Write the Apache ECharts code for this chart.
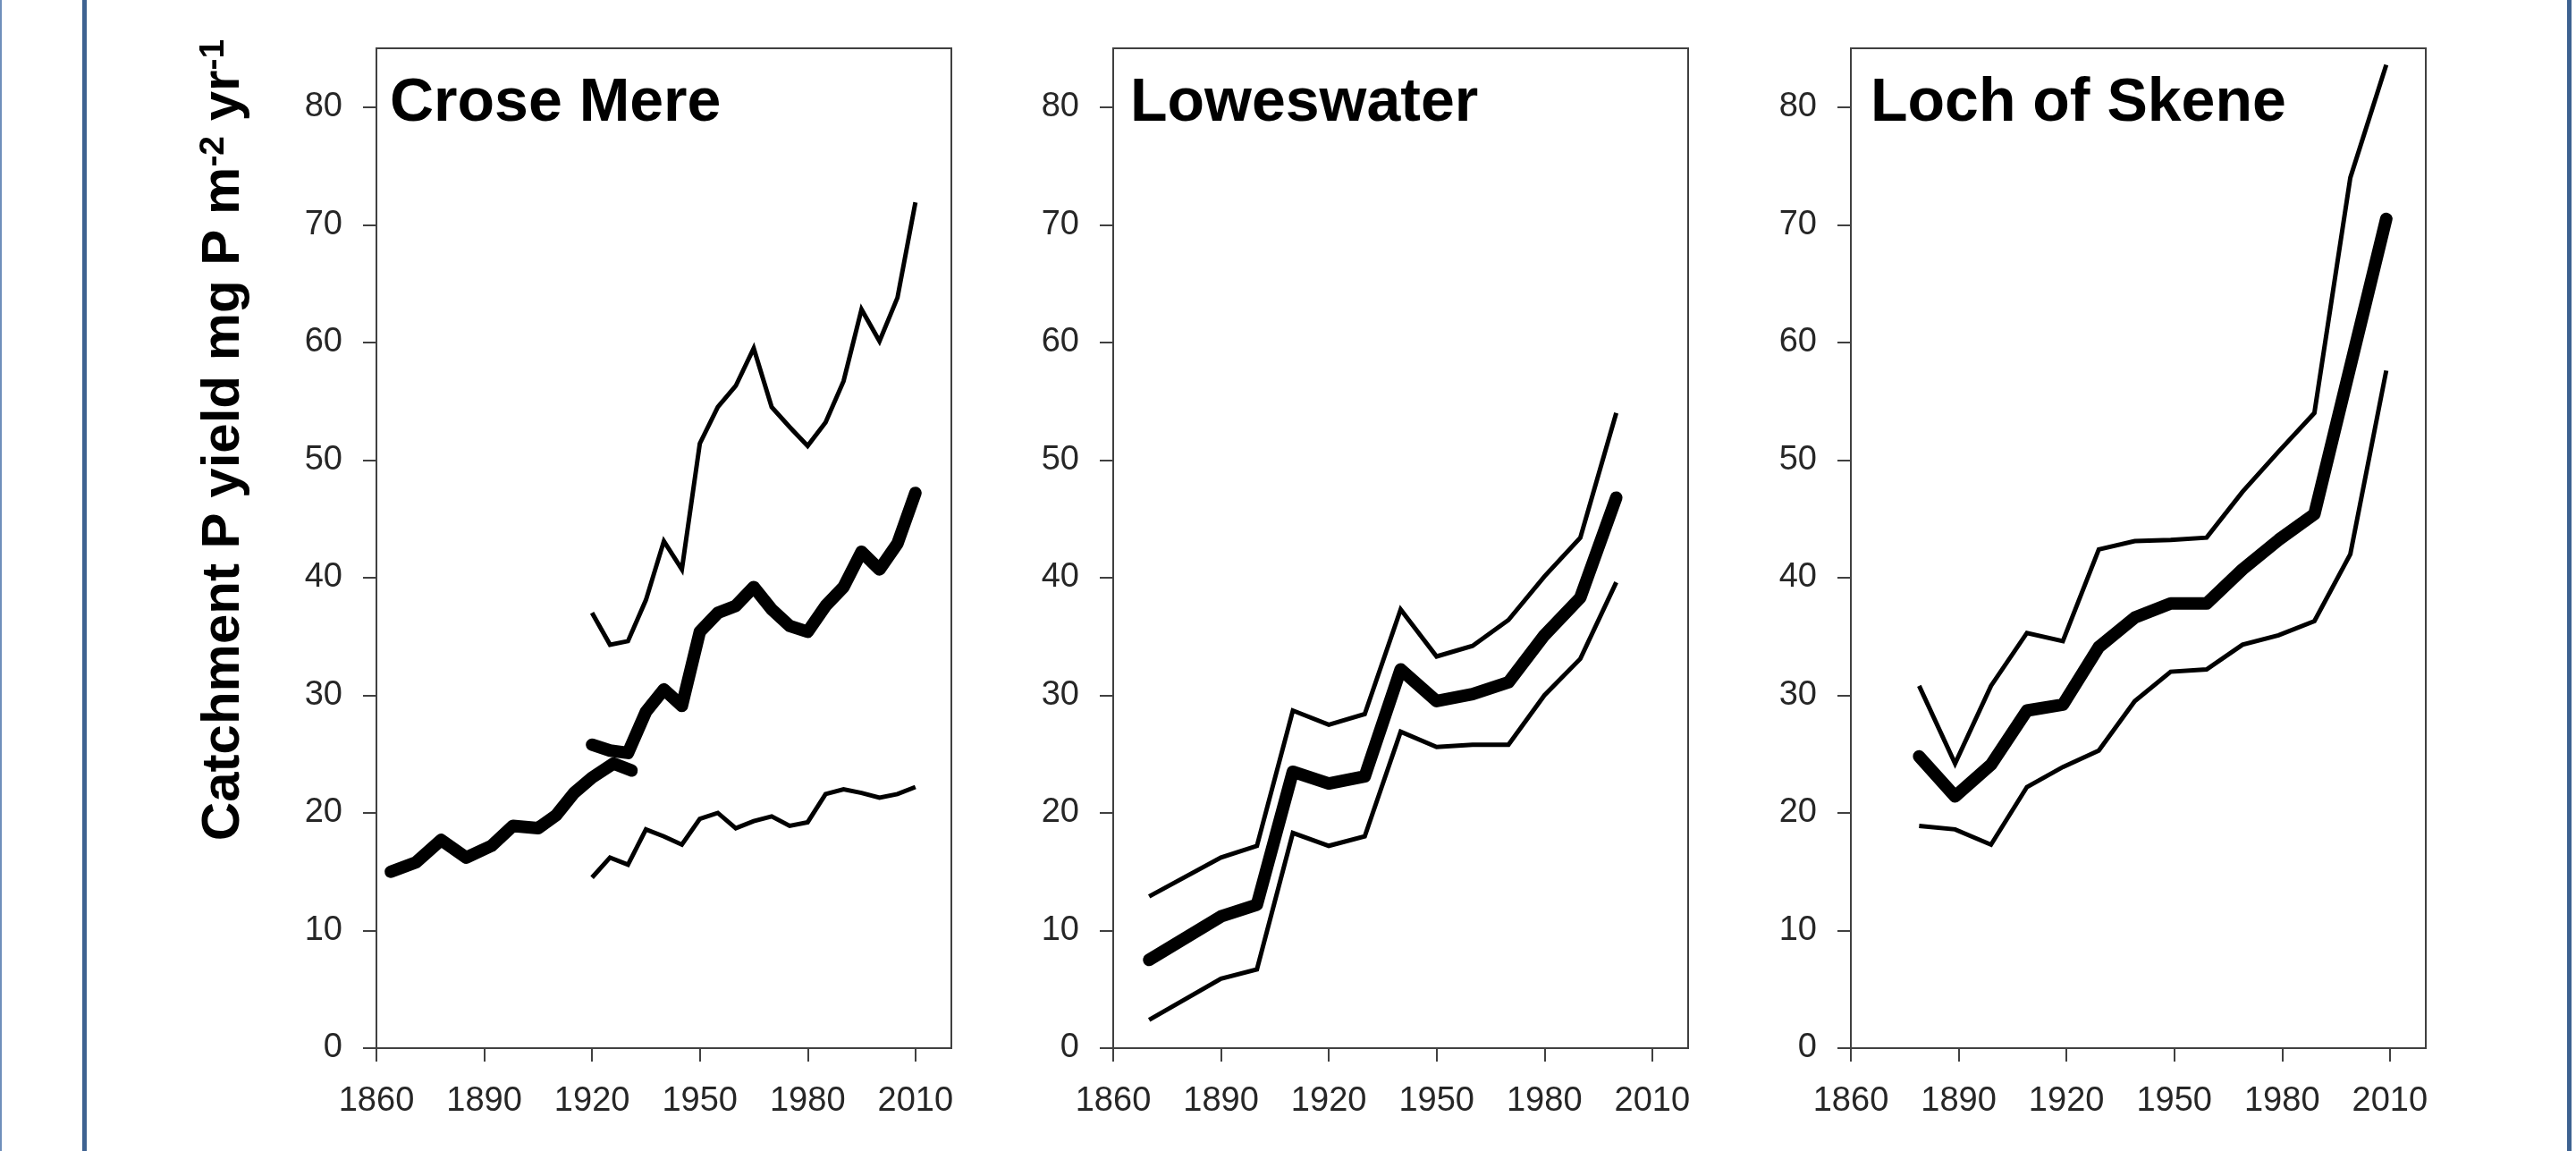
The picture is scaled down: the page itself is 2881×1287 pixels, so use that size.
<!DOCTYPE html>
<html>
<head>
<meta charset="utf-8">
<script src="https://cdn.jsdelivr.net/npm/echarts@6/dist/echarts.min.js"></script>
<style>
html,body{margin:0;padding:0;background:#fff;}
#chart{width:2881px;height:1287px;}
</style>
</head>
<body>
<div id="chart"></div>
<script>
// ---- Data ----
const panelTitles = ['Crose Mere', 'Loweswater', 'Loch of Skene'];
const xTickLabels = [1860, 1890, 1920, 1950, 1980, 2010];
const yTickLabels = [0, 10, 20, 30, 40, 50, 60, 70, 80];

// Crose Mere
const croseEarlyYears = [1864, 1871, 1878, 1885, 1892, 1898, 1905, 1910, 1915, 1920, 1926, 1931];
const croseEarlyMean  = [15.0, 15.8, 17.7, 16.2, 17.2, 18.9, 18.7, 19.8, 21.7, 23.0, 24.2, 23.6];
const croseYears = [1920, 1925, 1930, 1935, 1940, 1945, 1950, 1955, 1960, 1965, 1970, 1975, 1980, 1985, 1990, 1995, 2000, 2005, 2010];
const croseMean  = [25.8, 25.3, 25.1, 28.6, 30.5, 29.1, 35.4, 37.0, 37.6, 39.2, 37.3, 35.9, 35.4, 37.6, 39.2, 42.2, 40.7, 42.9, 47.2];
const croseUpper = [37.0, 34.3, 34.6, 38.1, 43.1, 40.7, 51.4, 54.5, 56.3, 59.5, 54.5, 52.8, 51.2, 53.2, 56.7, 62.8, 60.1, 63.8, 71.9];
const croseLower = [14.5, 16.2, 15.6, 18.6, 18.0, 17.3, 19.5, 20.0, 18.7, 19.3, 19.7, 18.9, 19.2, 21.6, 22.0, 21.7, 21.3, 21.6, 22.2];

// Loweswater
const loweYears = [1870, 1890, 1900, 1910, 1920, 1930, 1940, 1950, 1960, 1970, 1980, 1990, 2000];
const loweMean  = [7.5, 11.2, 12.2, 23.5, 22.5, 23.1, 32.2, 29.5, 30.1, 31.1, 35.1, 38.3, 46.8];
const loweUpper = [12.9, 16.2, 17.2, 28.7, 27.5, 28.4, 37.3, 33.3, 34.2, 36.4, 40.1, 43.4, 54.0];
const loweLower = [2.4, 5.9, 6.7, 18.3, 17.2, 18.0, 26.9, 25.6, 25.8, 25.8, 30.0, 33.1, 39.6];

// Loch of Skene
const skeneYears = [1879, 1889, 1899, 1909, 1919, 1929, 1939, 1949, 1959, 1969, 1979, 1989, 1999, 2009];
const skeneMean  = [24.8, 21.4, 24.1, 28.7, 29.2, 34.1, 36.6, 37.8, 37.8, 40.7, 43.2, 45.4, null, 70.5];
const skeneUpper = [30.8, 24.2, 30.8, 35.3, 34.6, 42.4, 43.1, 43.2, 43.4, 47.3, 50.7, 54.0, 74.0, 83.6];
const skeneLower = [18.9, 18.6, 17.3, 22.2, 23.9, 25.3, 29.5, 32.0, 32.2, 34.3, 35.1, 36.3, 42.0, 57.6];

// ---- Build ----
function pairs(xs, ys) {
  const out = [];
  for (let i = 0; i < xs.length; i++) if (ys[i] != null) out.push([xs[i], ys[i]]);
  return out;
}

const gridLefts = [421, 1245, 2070];
const gridTop = 54, gridW = 643, gridH = 1118;
const axisColor = '#404040';
const labelFont = {fontFamily: 'Liberation Sans, Arial, sans-serif', fontSize: 38, color: '#262626'};

const grids = gridLefts.map(l => ({left: l, top: gridTop, width: gridW, height: gridH,
  show: true, borderColor: axisColor, borderWidth: 2, backgroundColor: 'transparent', containLabel: false}));

const xAxes = gridLefts.map((l, i) => ({
  type: 'value', gridIndex: i, min: 1860, max: 2020, interval: 30,
  splitLine: {show: false},
  axisLine: {show: true, onZero: false, lineStyle: {color: axisColor, width: 2}},
  axisTick: {show: true, length: 15, inside: false, customValues: xTickLabels, lineStyle: {color: axisColor, width: 2}},
  axisLabel: Object.assign({margin: 41, customValues: xTickLabels, formatter: v => String(v)}, labelFont)
}));
const yAxes = gridLefts.map((l, i) => ({
  type: 'value', gridIndex: i, min: 0, max: 85, interval: 10,
  splitLine: {show: false},
  axisLine: {show: true, lineStyle: {color: axisColor, width: 2}},
  axisTick: {show: true, length: 15, inside: false, customValues: yTickLabels, lineStyle: {color: axisColor, width: 2}},
  axisLabel: Object.assign({margin: 38, customValues: yTickLabels, formatter: v => String(v)}, labelFont)
}));

function line(idx, data, thick) {
  return {
    type: 'line', xAxisIndex: idx, yAxisIndex: idx, data: data,
    showSymbol: false, symbol: 'none', silent: true, animation: false,
    lineStyle: {color: '#000', width: thick ? 14 : 5, cap: thick ? 'round' : 'butt', join: thick ? 'round' : 'miter'},
    z: thick ? 3 : 2
  };
}

const series = [
  line(0, pairs(croseYears, croseUpper), false),
  line(0, pairs(croseYears, croseLower), false),
  line(0, pairs(croseEarlyYears, croseEarlyMean), true),
  line(0, pairs(croseYears, croseMean), true),
  line(1, pairs(loweYears, loweUpper), false),
  line(1, pairs(loweYears, loweLower), false),
  line(1, pairs(loweYears, loweMean), true),
  line(2, pairs(skeneYears, skeneUpper), false),
  line(2, pairs(skeneYears, skeneLower), false),
  line(2, pairs(skeneYears, skeneMean), true)
];

const titleX = [436, 1264, 2092];
const titles = panelTitles.map((t, i) => ({
  text: t, left: titleX[i], top: 82, padding: 0,
  textStyle: {fontFamily: 'Liberation Sans, Arial, sans-serif', fontWeight: 'bold', fontSize: 68, lineHeight: 68, color: '#000'}
}));

const chart = echarts.init(document.getElementById('chart'), null, {renderer: 'canvas'});
chart.setOption({
  backgroundColor: '#ffffff',
  animation: false,
  title: titles,
  grid: grids,
  xAxis: xAxes,
  yAxis: yAxes,
  series: series,
  graphic: [
    {type: 'rect', left: 0, top: 0, shape: {width: 2, height: 1287}, style: {fill: '#6f8fbb'}, silent: true},
    {type: 'rect', left: 92, top: 0, shape: {width: 5, height: 1287}, style: {fill: '#3e6291'}, silent: true},
    {type: 'rect', left: 2871, top: 0, shape: {width: 5, height: 1287}, style: {fill: '#3e6291'}, silent: true},
    {
      type: 'text', x: 250, y: 492, rotation: Math.PI / 2, silent: true,
      style: {
        text: 'Catchment P yield mg P m{sup|-2} yr{sup|-1}',
        align: 'center', verticalAlign: 'middle',
        fontFamily: 'Liberation Sans, Arial, sans-serif', fontWeight: 'bold', fontSize: 60, fill: '#000',
        rich: {
          sup: {fontFamily: 'Liberation Sans, Arial, sans-serif', fontWeight: 'bold', fontSize: 39, fill: '#000', verticalAlign: 'top', lineHeight: 40}
        }
      }
    }
  ]
});
</script>
</body>
</html>
